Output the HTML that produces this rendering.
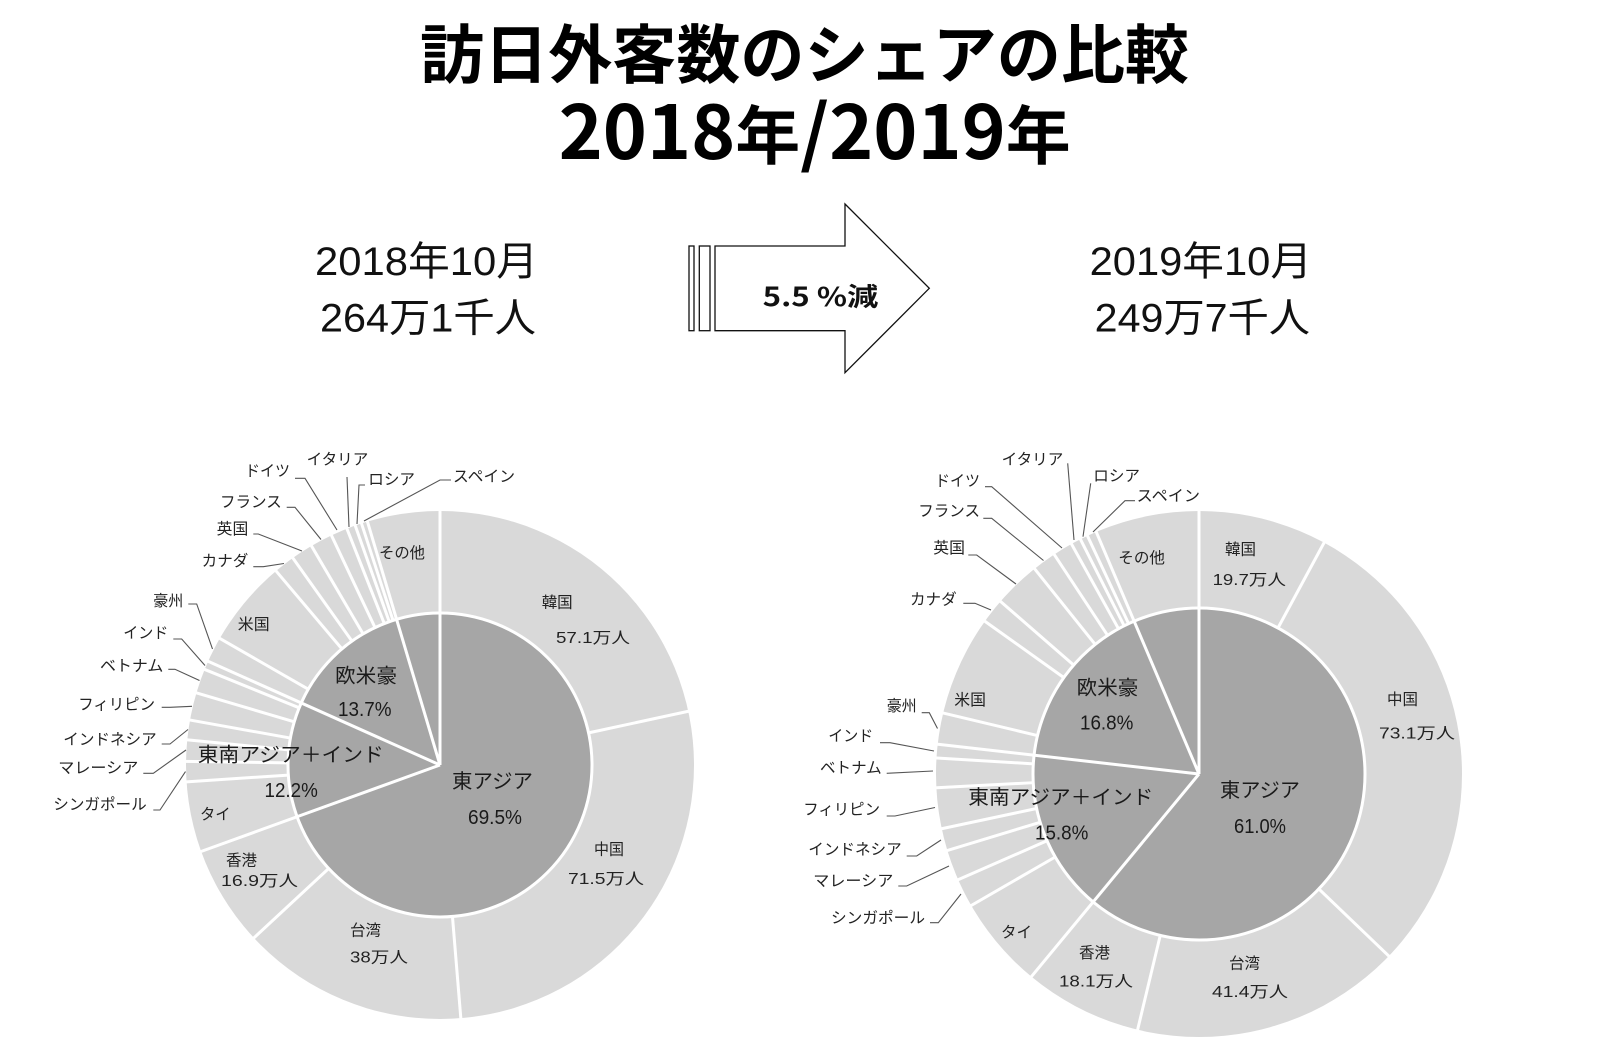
<!DOCTYPE html>
<html><head><meta charset="utf-8"><style>
html,body{margin:0;padding:0;background:#fff;}
svg{display:block;}
text{font-family:"Liberation Sans","Noto Sans CJK JP",sans-serif;fill:#222;}
.t{font-family:"Noto Sans CJK JP","Liberation Sans",sans-serif;}
.s{font-size:15.5px;dominant-baseline:central;}
.b{font-size:20px;dominant-baseline:central;fill:#1a1a1a;}
.ld{fill:none;stroke:#555;stroke-width:1.1;}
.sep{stroke:#fff;stroke-width:3;}
</style></head><body>
<svg width="1606" height="1062" viewBox="0 0 1606 1062" xmlns="http://www.w3.org/2000/svg">
<rect width="1606" height="1062" fill="#fff"/>

<!-- Title -->
<text class="t" x="420" y="78" font-size="64" font-weight="700" fill="#000" textLength="769" lengthAdjust="spacingAndGlyphs" style="fill:#000">訪日外客数のシェアの比較</text>
<text class="t" x="558.6" y="159" font-weight="700" textLength="512" lengthAdjust="spacingAndGlyphs" style="fill:#000"><tspan font-size="74">2018</tspan><tspan font-size="64">年</tspan><tspan font-size="74">/2019</tspan><tspan font-size="64">年</tspan></text>

<!-- Subtitles -->
<text x="315" y="275" font-size="40" textLength="223" lengthAdjust="spacingAndGlyphs" style="fill:#111">2018年10月</text>
<text x="320" y="331.5" font-size="40" textLength="216" lengthAdjust="spacingAndGlyphs" style="fill:#111">264万1千人</text>
<text x="1089.6" y="275" font-size="40" textLength="222.4" lengthAdjust="spacingAndGlyphs" style="fill:#111">2019年10月</text>
<text x="1094.7" y="331.5" font-size="40" textLength="215.3" lengthAdjust="spacingAndGlyphs" style="fill:#111">249万7千人</text>

<!-- Arrow -->
<g fill="#fff" stroke="#111" stroke-width="1.3">
<rect x="689" y="246" width="5" height="84.7"/>
<rect x="699.3" y="246" width="10.7" height="84.7"/>
<polygon points="715,246 845,246 845,204 929.3,288.3 845,372.7 845,330.7 715,330.7"/>
</g>
<text class="t" x="762.7" y="306" font-size="26" font-weight="700" textLength="115.6" lengthAdjust="spacingAndGlyphs" style="fill:#111">5.5 %減</text>

<!-- ========== LEFT CHART ========== -->
<g transform="translate(440,765)">
<circle r="254" fill="#d9d9d9"/>
<circle r="152" fill="#a6a6a6" stroke="#fff" stroke-width="3"/>
<g class="sep">
<line x1="0" y1="0" x2="0" y2="-256"/>
<line x1="0" y1="-152" x2="0" y2="-256" transform="rotate(77.8)"/>
<line x1="0" y1="-152" x2="0" y2="-256" transform="rotate(175.3)"/>
<line x1="0" y1="-152" x2="0" y2="-256" transform="rotate(227.1)"/>
<line x1="0" y1="0" x2="0" y2="-256" transform="rotate(250.1)"/>
<line x1="0" y1="-152" x2="0" y2="-256" transform="rotate(266.2)"/>
<line x1="0" y1="-152" x2="0" y2="-256" transform="rotate(270.8)"/>
<line x1="0" y1="-152" x2="0" y2="-256" transform="rotate(275.7)"/>
<line x1="0" y1="-152" x2="0" y2="-256" transform="rotate(280.2)"/>
<line x1="0" y1="-152" x2="0" y2="-256" transform="rotate(286.5)"/>
<line x1="0" y1="-152" x2="0" y2="-256" transform="rotate(292.1)"/>
<line x1="0" y1="0" x2="0" y2="-256" transform="rotate(294.1)"/>
<line x1="0" y1="-152" x2="0" y2="-256" transform="rotate(299.9)"/>
<line x1="0" y1="-152" x2="0" y2="-256" transform="rotate(319.8)"/>
<line x1="0" y1="-152" x2="0" y2="-256" transform="rotate(324.6)"/>
<line x1="0" y1="-152" x2="0" y2="-256" transform="rotate(329.6)"/>
<line x1="0" y1="-152" x2="0" y2="-256" transform="rotate(334.7)"/>
<line x1="0" y1="-152" x2="0" y2="-256" transform="rotate(338.5)"/>
<line x1="0" y1="-152" x2="0" y2="-256" transform="rotate(340.5)"/>
<line x1="0" y1="-152" x2="0" y2="-256" transform="rotate(342.0)"/>
<line x1="0" y1="0" x2="0" y2="-256" transform="rotate(343.4)"/>
</g>
</g>

<!-- left leaders -->
<g class="ld">
<polyline points="295,478.3 305,478.3 337,530"/>
<polyline points="347,477 349,527"/>
<polyline points="365,485 359,485 357,524"/>
<polyline points="364,521 440,480 451,480"/>
<polyline points="286.7,507.3 295,507.3 321,539.5"/>
<polyline points="253.3,534 258.3,534 302,551"/>
<polyline points="253.3,566.7 263.3,566.7 284,563.5"/>
<polyline points="188.3,604 196.7,604 212.5,649"/>
<polyline points="173.3,639 181.7,639 205,665.5"/>
<polyline points="168.3,669.3 175,669.3 199.5,680.5"/>
<polyline points="161.7,707.3 170,707.3 192,706.3"/>
<polyline points="161.7,744 170,744 188,729.5"/>
<polyline points="143.3,773.3 153.3,773.3 186,750"/>
<polyline points="153.3,810 160,810 185.5,771.6"/>
</g>

<!-- left small labels -->
<g class="s">
<text class="s" x="306.7" y="460" textLength="61.6" lengthAdjust="spacingAndGlyphs">イタリア</text>
<text class="s" x="245" y="471.7" textLength="45" lengthAdjust="spacingAndGlyphs">ドイツ</text>
<text class="s" x="368.3" y="480" textLength="46.7" lengthAdjust="spacingAndGlyphs">ロシア</text>
<text class="s" x="453" y="477" textLength="62" lengthAdjust="spacingAndGlyphs">スペイン</text>
<text class="s" x="220" y="502.7" textLength="61.7" lengthAdjust="spacingAndGlyphs">フランス</text>
<text class="s" x="216.7" y="529.3" textLength="31.6" lengthAdjust="spacingAndGlyphs">英国</text>
<text class="s" x="201.7" y="561.7" textLength="46.6" lengthAdjust="spacingAndGlyphs">カナダ</text>
<text class="s" x="153.3" y="601.7" textLength="30" lengthAdjust="spacingAndGlyphs">豪州</text>
<text class="s" x="123.3" y="633.3" textLength="45" lengthAdjust="spacingAndGlyphs">インド</text>
<text class="s" x="100" y="666.7" textLength="63.3" lengthAdjust="spacingAndGlyphs">ベトナム</text>
<text class="s" x="78.3" y="705" textLength="76.7" lengthAdjust="spacingAndGlyphs">フィリピン</text>
<text class="s" x="63.3" y="740" textLength="93.4" lengthAdjust="spacingAndGlyphs">インドネシア</text>
<text class="s" x="58.3" y="768.3" textLength="80" lengthAdjust="spacingAndGlyphs">マレーシア</text>
<text class="s" x="53.3" y="805" textLength="93.4" lengthAdjust="spacingAndGlyphs">シンガポール</text>
<text class="s" x="379" y="553.5" textLength="46" lengthAdjust="spacingAndGlyphs">その他</text>
<text class="s" x="237.8" y="625" textLength="31.8" lengthAdjust="spacingAndGlyphs">米国</text>
<text class="s" x="541.7" y="603" textLength="31" lengthAdjust="spacingAndGlyphs">韓国</text>
<text class="s" x="556" y="638.5" textLength="74" lengthAdjust="spacingAndGlyphs">57.1万人</text>
<text class="s" x="594" y="850" textLength="30" lengthAdjust="spacingAndGlyphs">中国</text>
<text class="s" x="568" y="879.5" textLength="76" lengthAdjust="spacingAndGlyphs">71.5万人</text>
<text class="s" x="350" y="931" textLength="31" lengthAdjust="spacingAndGlyphs">台湾</text>
<text class="s" x="350" y="958" textLength="58" lengthAdjust="spacingAndGlyphs">38万人</text>
<text class="s" x="226" y="861" textLength="31" lengthAdjust="spacingAndGlyphs">香港</text>
<text class="s" x="221" y="881.5" textLength="77" lengthAdjust="spacingAndGlyphs">16.9万人</text>
<text class="s" x="200" y="815" textLength="30.6" lengthAdjust="spacingAndGlyphs">タイ</text>
</g>
<!-- left big labels -->
<text class="b" x="335" y="676.5" textLength="62" lengthAdjust="spacingAndGlyphs">欧米豪</text>
<text class="b" x="338" y="710" textLength="53.5" lengthAdjust="spacingAndGlyphs">13.7%</text>
<text class="b" x="197.8" y="755.4" textLength="186" lengthAdjust="spacingAndGlyphs">東南アジア＋インド</text>
<text class="b" x="264.5" y="791" textLength="53.3" lengthAdjust="spacingAndGlyphs">12.2%</text>
<text class="b" x="452" y="782" textLength="81" lengthAdjust="spacingAndGlyphs">東アジア</text>
<text class="b" x="468" y="818" textLength="54" lengthAdjust="spacingAndGlyphs">69.5%</text>

<!-- ========== RIGHT CHART ========== -->
<g transform="translate(1199,774)">
<circle r="263" fill="#d9d9d9"/>
<circle r="166" fill="#a6a6a6" stroke="#fff" stroke-width="3"/>
<g class="sep">
<line x1="0" y1="0" x2="0" y2="-265"/>
<line x1="0" y1="-166" x2="0" y2="-265" transform="rotate(28.4)"/>
<line x1="0" y1="-166" x2="0" y2="-265" transform="rotate(133.8)"/>
<line x1="0" y1="-166" x2="0" y2="-265" transform="rotate(193.5)"/>
<line x1="0" y1="0" x2="0" y2="-265" transform="rotate(219.6)"/>
<line x1="0" y1="-166" x2="0" y2="-265" transform="rotate(240.0)"/>
<line x1="0" y1="-166" x2="0" y2="-265" transform="rotate(246.3)"/>
<line x1="0" y1="-166" x2="0" y2="-265" transform="rotate(253.1)"/>
<line x1="0" y1="-166" x2="0" y2="-265" transform="rotate(258.0)"/>
<line x1="0" y1="-166" x2="0" y2="-265" transform="rotate(267.0)"/>
<line x1="0" y1="-166" x2="0" y2="-265" transform="rotate(273.5)"/>
<line x1="0" y1="0" x2="0" y2="-265" transform="rotate(276.5)"/>
<line x1="0" y1="-166" x2="0" y2="-265" transform="rotate(283.4)"/>
<line x1="0" y1="-166" x2="0" y2="-265" transform="rotate(305.5)"/>
<line x1="0" y1="-166" x2="0" y2="-265" transform="rotate(311.0)"/>
<line x1="0" y1="-166" x2="0" y2="-265" transform="rotate(321.3)"/>
<line x1="0" y1="-166" x2="0" y2="-265" transform="rotate(326.6)"/>
<line x1="0" y1="-166" x2="0" y2="-265" transform="rotate(331.0)"/>
<line x1="0" y1="-166" x2="0" y2="-265" transform="rotate(333.2)"/>
<line x1="0" y1="-166" x2="0" y2="-265" transform="rotate(334.9)"/>
<line x1="0" y1="0" x2="0" y2="-265" transform="rotate(337.0)"/>
</g>
</g>

<!-- right leaders -->
<g class="ld">
<polyline points="1067.7,463.3 1074,540"/>
<polyline points="1090.7,483.3 1083,536.7"/>
<polyline points="1135,500.7 1125,500.7 1093,532"/>
<polyline points="985,486.7 991.7,486.7 1062,548"/>
<polyline points="983.3,518.3 991.7,518.3 1043.5,560.5"/>
<polyline points="968.3,555 976.7,555 1016,584"/>
<polyline points="963.3,603.3 975,603.3 991,610"/>
<polyline points="921.7,712.7 929.3,712.7 937.5,728.5"/>
<polyline points="880,742.7 890,742.7 934,751"/>
<polyline points="886.7,773.3 933,771"/>
<polyline points="886.7,816 895,816 935,807.5"/>
<polyline points="906.7,856 916.7,856 941,840"/>
<polyline points="898.3,886 906.7,886 949,866"/>
<polyline points="930,922.7 938.3,922.7 961,894"/>
</g>

<!-- right small labels -->
<g>
<text class="s" x="1001.7" y="460" textLength="61.6" lengthAdjust="spacingAndGlyphs">イタリア</text>
<text class="s" x="1093.3" y="476.7" textLength="46.7" lengthAdjust="spacingAndGlyphs">ロシア</text>
<text class="s" x="1136.7" y="496.7" textLength="63.3" lengthAdjust="spacingAndGlyphs">スペイン</text>
<text class="s" x="935" y="481.7" textLength="45" lengthAdjust="spacingAndGlyphs">ドイツ</text>
<text class="s" x="918.3" y="511.7" textLength="61.7" lengthAdjust="spacingAndGlyphs">フランス</text>
<text class="s" x="933.3" y="548.3" textLength="31.7" lengthAdjust="spacingAndGlyphs">英国</text>
<text class="s" x="910" y="600" textLength="46.7" lengthAdjust="spacingAndGlyphs">カナダ</text>
<text class="s" x="886.7" y="706.7" textLength="30" lengthAdjust="spacingAndGlyphs">豪州</text>
<text class="s" x="828.3" y="736.7" textLength="45" lengthAdjust="spacingAndGlyphs">インド</text>
<text class="s" x="820" y="768.3" textLength="61.7" lengthAdjust="spacingAndGlyphs">ベトナム</text>
<text class="s" x="803.3" y="810" textLength="76.7" lengthAdjust="spacingAndGlyphs">フィリピン</text>
<text class="s" x="808.3" y="850" textLength="93.4" lengthAdjust="spacingAndGlyphs">インドネシア</text>
<text class="s" x="813.3" y="881.7" textLength="80" lengthAdjust="spacingAndGlyphs">マレーシア</text>
<text class="s" x="831" y="918.3" textLength="94" lengthAdjust="spacingAndGlyphs">シンガポール</text>
<text class="s" x="1118.3" y="558.3" textLength="46.7" lengthAdjust="spacingAndGlyphs">その他</text>
<text class="s" x="954.3" y="700.7" textLength="31.7" lengthAdjust="spacingAndGlyphs">米国</text>
<text class="s" x="1225" y="550" textLength="31" lengthAdjust="spacingAndGlyphs">韓国</text>
<text class="s" x="1212.6" y="580.5" textLength="73.4" lengthAdjust="spacingAndGlyphs">19.7万人</text>
<text class="s" x="1387" y="700" textLength="31" lengthAdjust="spacingAndGlyphs">中国</text>
<text class="s" x="1379" y="734" textLength="76" lengthAdjust="spacingAndGlyphs">73.1万人</text>
<text class="s" x="1001" y="933" textLength="31" lengthAdjust="spacingAndGlyphs">タイ</text>
<text class="s" x="1079" y="953.5" textLength="31" lengthAdjust="spacingAndGlyphs">香港</text>
<text class="s" x="1059" y="982" textLength="74" lengthAdjust="spacingAndGlyphs">18.1万人</text>
<text class="s" x="1229" y="964" textLength="31" lengthAdjust="spacingAndGlyphs">台湾</text>
<text class="s" x="1212" y="992.5" textLength="76" lengthAdjust="spacingAndGlyphs">41.4万人</text>
</g>
<!-- right big labels -->
<text class="b" x="1076.7" y="688.3" textLength="61.6" lengthAdjust="spacingAndGlyphs">欧米豪</text>
<text class="b" x="1080" y="723.3" textLength="53.3" lengthAdjust="spacingAndGlyphs">16.8%</text>
<text class="b" x="968.3" y="798" textLength="185" lengthAdjust="spacingAndGlyphs">東南アジア＋インド</text>
<text class="b" x="1035" y="833.3" textLength="53.3" lengthAdjust="spacingAndGlyphs">15.8%</text>
<text class="b" x="1220" y="791" textLength="80" lengthAdjust="spacingAndGlyphs">東アジア</text>
<text class="b" x="1234" y="827" textLength="52" lengthAdjust="spacingAndGlyphs">61.0%</text>

</svg>
</body></html>
